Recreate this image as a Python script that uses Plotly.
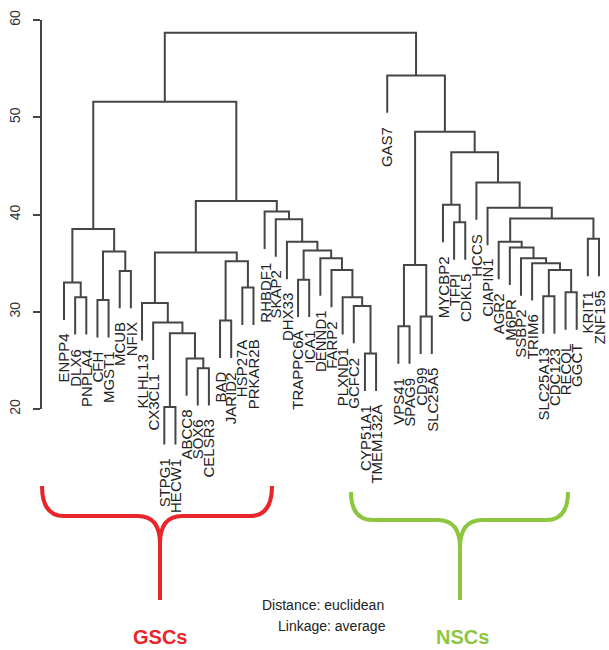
import plotly.graph_objects as go

# ---------------- data ----------------
leaves = ["ENPP4", "DLX6", "PNPLA4", "CFH", "MGST1", "MCUB", "NFIX",
          "KLHL13", "CX3CL1", "STPG1", "HECW1", "ABCC8", "SOX6", "CELSR3",
          "BAD", "JARID2", "HSP27A", "PRKAR2B", "RHBDF1", "SKAP2", "DHX33",
          "TRAPPC6A", "ICA1", "DENND1", "FARP2", "PLXND1", "GCFC2", "CYP51A1",
          "TMEM132A", "GAS7", "VPS41", "SPAG9", "CD99", "SLC25A5", "MYCBP2",
          "TFPI", "CDKL5", "HCCS", "CIAPIN1", "AGR2", "M6PR", "SSBP2", "TRIM6",
          "SLC25A13", "CDC123", "RECQL", "GGCT", "KRIT1", "ZNF195"]

# merges: children are leaf names or "#k" (k = 1-based merge index)
merge_left = ["DLX6", "ENPP4", "CFH", "MCUB", "#3", "#2",
              "STPG1", "SOX6", "ABCC8", "#7", "CX3CL1", "KLHL13",
              "BAD", "HSP27A", "#13", "#12",
              "CYP51A1", "GCFC2", "PLXND1", "FARP2", "DENND1", "TRAPPC6A",
              "#22", "DHX33", "SKAP2", "RHBDF1", "#16", "#6",
              "VPS41", "CD99", "#29", "TFPI", "MYCBP2",
              "SLC25A13", "RECQL", "#34", "TRIM6", "SSBP2", "M6PR", "AGR2",
              "KRIT1", "#40", "CIAPIN1", "HCCS", "#33", "#31", "GAS7", "#28"]
merge_right = ["PNPLA4", "#1", "MGST1", "NFIX", "#4", "#5",
               "HECW1", "CELSR3", "#8", "#9", "#10", "#11",
               "JARID2", "PRKAR2B", "#14", "#15",
               "TMEM132A", "#17", "#18", "#19", "#20", "ICA1",
               "#21", "#23", "#24", "#25", "#26", "#27",
               "SPAG9", "SLC25A5", "#30", "CDKL5", "#32",
               "CDC123", "GGCT", "#35", "#36", "#37", "#38", "#39",
               "ZNF195", "#41", "#42", "#43", "#44", "#45", "#46", "#47"]
merge_height = [31.5, 33.0, 31.2, 34.2, 36.2, 38.5,
                20.2, 24.2, 25.2, 27.8, 28.9, 30.9,
                29.1, 32.5, 35.2, 36.1,
                25.7, 30.6, 31.5, 34.3, 35.5, 33.3,
                36.3, 37.2, 39.5, 40.3, 41.4, 51.6,
                28.5, 29.5, 34.8, 39.2, 41.0,
                31.6, 32.0, 34.3, 35.0, 35.5, 36.6, 37.2,
                37.5, 39.6, 40.7, 43.3, 46.4, 48.5, 54.3, 58.7]

y_ticks = [20, 30, 40, 50, 60]
group_names = ["GSCs", "NSCs"]
method_text = ["Distance: euclidean", "Linkage: average"]

# ---------------- build dendrogram segments ----------------
leaf_pos = {name: i for i, name in enumerate(leaves)}
hang = 0.1 * (max(merge_height) - min(merge_height))
node_x = {}
xs, ys = [], []
leaf_end = {}


def child_xy(c, parent_h):
    if c.startswith("#"):
        k = int(c[1:]) - 1
        return node_x[k], merge_height[k]
    x = leaf_pos[c]
    leaf_end[c] = parent_h - hang
    return x, parent_h - hang


for k in range(len(merge_height)):
    h = merge_height[k]
    xl, yl = child_xy(merge_left[k], h)
    xr, yr = child_xy(merge_right[k], h)
    node_x[k] = (xl + xr) / 2
    xs += [xl, xl, xr, xr, None]
    ys += [yl, h, h, yr, None]

line_col = "#454545"
fig = go.Figure()
fig.add_trace(go.Scatter(x=xs, y=ys, mode="lines",
                         line=dict(color=line_col, width=2),
                         hoverinfo="skip", showlegend=False))

FONT = "Arial, Liberation Sans, sans-serif"
annotations = []
for name in leaves:
    annotations.append(dict(x=leaf_pos[name], y=leaf_end[name], xref="x", yref="y",
                            text=name, showarrow=False, textangle=-90,
                            xanchor="center", yanchor="top", yshift=-12,
                            font=dict(family=FONT, size=15, color="#222222")))

# ---------------- layout geometry ----------------
W, H = 609, 650
ML, MR, MT, MB = 41, 5, 10, 0
PW, PH = W - ML - MR, H - MT - MB


def px(xp):
    return (xp - ML) / PW


def py(yp):
    return (H - MB - yp) / PH


# y range so that 60 -> px 20, 20 -> px 409
ppu = (409 - 20) / 40.0
y_top = 60 + (20 - MT) / ppu
y_bot = 60 - (H - MB - 20) / ppu
# x range so that first leaf sits at px 64 and last at px 599
xpu = (599 - 64) / (len(leaves) - 1)
x_lo = -(64 - ML) / xpu
x_hi = x_lo + PW / xpu

shapes = [dict(type="line", xref="paper", yref="y", x0=0, x1=0,
               y0=min(y_ticks), y1=max(y_ticks),
               line=dict(color=line_col, width=2))]


def brace(x0, x1, c, ytop, ymid, ybot, color):
    r = 22
    p = (f"M {px(x0)},{py(ytop)} Q {px(x0)},{py(ymid)} {px(x0 + r)},{py(ymid)} "
         f"L {px(c - r)},{py(ymid)} Q {px(c)},{py(ymid)} {px(c)},{py(ymid + 28)} "
         f"L {px(c)},{py(ybot)} M {px(c)},{py(ymid + 28)} "
         f"Q {px(c)},{py(ymid)} {px(c + r)},{py(ymid)} "
         f"L {px(x1 - r)},{py(ymid)} Q {px(x1)},{py(ymid)} {px(x1)},{py(ytop)}")
    return dict(type="path", xref="paper", yref="paper", path=p,
                line=dict(color=color, width=4))


RED, GREEN = "#e8262a", "#8dc63f"
shapes.append(brace(42, 272, 160, 486, 516, 600, RED))
shapes.append(brace(351, 568, 460, 492, 520, 600, GREEN))

annotations.append(dict(x=px(160), y=py(637), xref="paper", yref="paper",
                        xanchor="center", yanchor="middle",
                        text="<b>" + group_names[0] + "</b>", showarrow=False,
                        font=dict(family=FONT, size=20, color=RED)))
annotations.append(dict(x=px(462), y=py(637), xref="paper", yref="paper",
                        xanchor="center", yanchor="middle",
                        text="<b>" + group_names[1] + "</b>", showarrow=False,
                        font=dict(family=FONT, size=20, color=GREEN)))
for i, t in enumerate(method_text):
    annotations.append(dict(x=px(323 + 9 * i), y=py(605 + 21 * i), xref="paper", yref="paper",
                            xanchor="center", yanchor="middle",
                            text=t, showarrow=False,
                            font=dict(family=FONT, size=14, color="#222222")))

fig.update_layout(
    width=W, height=H, margin=dict(l=ML, r=MR, t=MT, b=MB),
    paper_bgcolor="white", plot_bgcolor="white",
    xaxis=dict(range=[x_lo, x_hi], visible=False, fixedrange=True),
    yaxis=dict(range=[y_bot, y_top], tickvals=y_ticks, ticks="outside",
               ticklen=7, tickwidth=2, tickcolor=line_col, showgrid=False,
               zeroline=False, showline=False, tickangle=-90, automargin=False,
               ticklabelstandoff=7, fixedrange=True,
               tickfont=dict(family=FONT, size=14, color="#333333")),
    shapes=shapes, annotations=annotations, showlegend=False,
)

fig.write_html("out.html", config={"displayModeBar": False},
               post_script="document.body.style.margin='0px';")
